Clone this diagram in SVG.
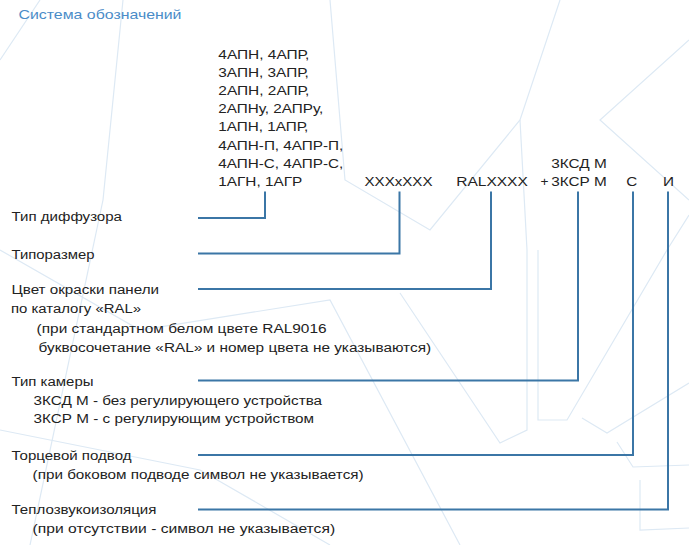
<svg xmlns="http://www.w3.org/2000/svg" width="689" height="545" viewBox="0 0 689 545">
<style>
  .t { font-family: "Liberation Sans", Arial, sans-serif; font-size: 12.5px; fill: #222222; }
  .title { font-family: "Liberation Sans", Arial, sans-serif; font-size: 13px; fill: #4a8cc8; }
  .c { fill: none; stroke: #3b76a6; stroke-width: 2; }
  .bg { fill: none; stroke: #dde9f4; stroke-width: 1.2; }
</style>
<rect width="689" height="545" fill="#ffffff"/>
<g id="background">
  <polyline class="bg" points="123,0 103,200 30,545"/>
  <polyline class="bg" points="400,293 500,443 527,430 527,250 520,120"/>
  <polyline class="bg" points="538,250 538,420 567,420 667,250 689,215"/>
  <polyline class="bg" points="582,418 607,433 689,383"/>
  <polyline class="bg" points="617,442 633,467 689,465"/>
  <polyline class="bg" points="640,480 640,530 689,528"/>
  <polyline class="bg" points="330,0 345,180 430,230 520,120 560,0"/>
  <polyline class="bg" points="0,60 40,0"/>
  <polyline class="bg" points="0,250 140,330 330,300 460,545"/>
  <polyline class="bg" points="0,430 200,470 330,545"/>
  <polyline class="bg" points="689,40 600,120 689,200"/>
</g>
<g id="title"><text class="title" x="18.5" y="19" textLength="163" lengthAdjust="spacingAndGlyphs">Система обозначений</text></g>
<g id="code-diffuser">
  <text class="t" x="218.3" y="58.5" textLength="91" lengthAdjust="spacingAndGlyphs">4АПН, 4АПР,</text>
  <text class="t" x="218.3" y="76.7" textLength="90.5" lengthAdjust="spacingAndGlyphs">3АПН, 3АПР,</text>
  <text class="t" x="218.3" y="94.9" textLength="91" lengthAdjust="spacingAndGlyphs">2АПН, 2АПР,</text>
  <text class="t" x="218.3" y="113.1" textLength="105" lengthAdjust="spacingAndGlyphs">2АПНу, 2АПРу,</text>
  <text class="t" x="218.3" y="131.3" textLength="90" lengthAdjust="spacingAndGlyphs">1АПН, 1АПР,</text>
  <text class="t" x="218.3" y="149.5" textLength="125" lengthAdjust="spacingAndGlyphs">4АПН-П, 4АПР-П,</text>
  <text class="t" x="218.3" y="167.7" textLength="125" lengthAdjust="spacingAndGlyphs">4АПН-С, 4АПР-С,</text>
  <text class="t" x="218.3" y="186" textLength="84" lengthAdjust="spacingAndGlyphs">1АГН, 1АГР</text>
</g>
<g id="code-size"><text class="t" x="364.5" y="186" textLength="68" lengthAdjust="spacingAndGlyphs">XXXxXXX</text></g>
<g id="code-ral"><text class="t" x="456.3" y="186" textLength="71.5" lengthAdjust="spacingAndGlyphs">RALXXXX</text></g>
<g id="code-chamber">
  <text class="t" x="551.3" y="167.5" textLength="55.5" lengthAdjust="spacingAndGlyphs">3КСД М</text>
  <text class="t" x="540.5" y="186" textLength="8" lengthAdjust="spacingAndGlyphs">+</text>
  <text class="t" x="551.3" y="186" textLength="55.5" lengthAdjust="spacingAndGlyphs">3КСР М</text>
</g>
<g id="code-end"><text class="t" x="626.3" y="186" textLength="11" lengthAdjust="spacingAndGlyphs">С</text></g>
<g id="code-insul"><text class="t" x="663" y="186" textLength="11" lengthAdjust="spacingAndGlyphs">И</text></g>
<g id="label-diffuser"><text class="t" x="11.5" y="220.5" textLength="110.5" lengthAdjust="spacingAndGlyphs">Тип диффузора</text></g>
<g id="label-size"><text class="t" x="11.5" y="259" textLength="83" lengthAdjust="spacingAndGlyphs">Типоразмер</text></g>
<g id="label-ral">
  <text class="t" x="11.5" y="294" textLength="147.5" lengthAdjust="spacingAndGlyphs">Цвет окраски панели</text>
  <text class="t" x="11" y="313" textLength="130" lengthAdjust="spacingAndGlyphs">по каталогу «RAL»</text>
  <text class="t" x="36.6" y="333" textLength="290" lengthAdjust="spacingAndGlyphs">(при стандартном белом цвете RAL9016</text>
  <text class="t" x="38.6" y="352" textLength="392.5" lengthAdjust="spacingAndGlyphs">буквосочетание «RAL» и номер цвета не указываются)</text>
</g>
<g id="label-chamber">
  <text class="t" x="11.5" y="386" textLength="82" lengthAdjust="spacingAndGlyphs">Тип камеры</text>
  <text class="t" x="33.6" y="404.5" textLength="288.5" lengthAdjust="spacingAndGlyphs">3КСД М - без регулирующего устройства</text>
  <text class="t" x="33.6" y="423" textLength="280.5" lengthAdjust="spacingAndGlyphs">3КСР М - с регулирующим устройством</text>
</g>
<g id="label-end">
  <text class="t" x="11.5" y="460" textLength="120" lengthAdjust="spacingAndGlyphs">Торцевой подвод</text>
  <text class="t" x="32.6" y="479" textLength="331" lengthAdjust="spacingAndGlyphs">(при боковом подводе символ не указывается)</text>
</g>
<g id="label-insul">
  <text class="t" x="11.5" y="514" textLength="145" lengthAdjust="spacingAndGlyphs">Теплозвукоизоляция</text>
  <text class="t" x="32.6" y="533" textLength="302.5" lengthAdjust="spacingAndGlyphs">(при отсутствии - символ не указывается)</text>
</g>
<g id="connectors">
  <polyline class="c" points="265,191.5 265,218 198,218"/>
  <polyline class="c" points="399.5,191.5 399.5,253.5 198,253.5"/>
  <polyline class="c" points="491,191.5 491,289 198,289"/>
  <polyline class="c" points="578,191.5 578,380.5 198,380.5"/>
  <polyline class="c" points="633,191.5 633,455 198,455"/>
  <polyline class="c" points="668,191.5 668,509.5 198,509.5"/>
</g>
</svg>
